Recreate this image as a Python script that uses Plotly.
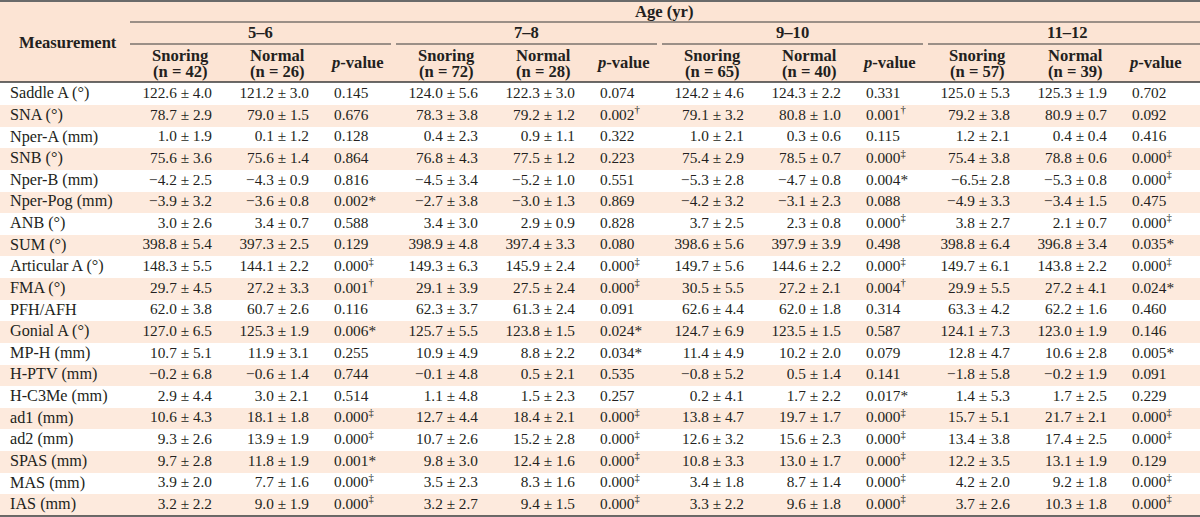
import plotly.graph_objects as go

# ---------------- data ----------------
measurements = ["Saddle A (°)", "SNA (°)", "Nper-A (mm)", "SNB (°)", "Nper-B (mm)",
                "Nper-Pog (mm)", "ANB (°)", "SUM (°)", "Articular A (°)", "FMA (°)",
                "PFH/AFH", "Gonial A (°)", "MP-H (mm)", "H-PTV (mm)", "H-C3Me (mm)",
                "ad1 (mm)", "ad2 (mm)", "SPAS (mm)", "MAS (mm)", "IAS (mm)"]

age_groups = ["5–6", "7–8", "9–10", "11–12"]
n_snoring = [42, 72, 65, 57]
n_normal = [26, 28, 40, 39]

snoring_5_6 = ["122.6 ± 4.0", "78.7 ± 2.9", "1.0 ± 1.9", "75.6 ± 3.6", "−4.2 ± 2.5",
               "−3.9 ± 3.2", "3.0 ± 2.6", "398.8 ± 5.4", "148.3 ± 5.5", "29.7 ± 4.5",
               "62.0 ± 3.8", "127.0 ± 6.5", "10.7 ± 5.1", "−0.2 ± 6.8", "2.9 ± 4.4",
               "10.6 ± 4.3", "9.3 ± 2.6", "9.7 ± 2.8", "3.9 ± 2.0", "3.2 ± 2.2"]
normal_5_6 = ["121.2 ± 3.0", "79.0 ± 1.5", "0.1 ± 1.2", "75.6 ± 1.4", "−4.3 ± 0.9",
              "−3.6 ± 0.8", "3.4 ± 0.7", "397.3 ± 2.5", "144.1 ± 2.2", "27.2 ± 3.3",
              "60.7 ± 2.6", "125.3 ± 1.9", "11.9 ± 3.1", "−0.6 ± 1.4", "3.0 ± 2.1",
              "18.1 ± 1.8", "13.9 ± 1.9", "11.8 ± 1.9", "7.7 ± 1.6", "9.0 ± 1.9"]
p_5_6 = ["0.145", "0.676", "0.128", "0.864", "0.816", "0.002*", "0.588", "0.129",
         "0.000‡", "0.001†", "0.116", "0.006*", "0.255", "0.744", "0.514",
         "0.000‡", "0.000‡", "0.001*", "0.000‡", "0.000‡"]

snoring_7_8 = ["124.0 ± 5.6", "78.3 ± 3.8", "0.4 ± 2.3", "76.8 ± 4.3", "−4.5 ± 3.4",
               "−2.7 ± 3.8", "3.4 ± 3.0", "398.9 ± 4.8", "149.3 ± 6.3", "29.1 ± 3.9",
               "62.3 ± 3.7", "125.7 ± 5.5", "10.9 ± 4.9", "−0.1 ± 4.8", "1.1 ± 4.8",
               "12.7 ± 4.4", "10.7 ± 2.6", "9.8 ± 3.0", "3.5 ± 2.3", "3.2 ± 2.7"]
normal_7_8 = ["122.3 ± 3.0", "79.2 ± 1.2", "0.9 ± 1.1", "77.5 ± 1.2", "−5.2 ± 1.0",
              "−3.0 ± 1.3", "2.9 ± 0.9", "397.4 ± 3.3", "145.9 ± 2.4", "27.5 ± 2.4",
              "61.3 ± 2.4", "123.8 ± 1.5", "8.8 ± 2.2", "0.5 ± 2.1", "1.5 ± 2.3",
              "18.4 ± 2.1", "15.2 ± 2.8", "12.4 ± 1.6", "8.3 ± 1.6", "9.4 ± 1.5"]
p_7_8 = ["0.074", "0.002†", "0.322", "0.223", "0.551", "0.869", "0.828", "0.080",
         "0.000‡", "0.000‡", "0.091", "0.024*", "0.034*", "0.535", "0.257",
         "0.000‡", "0.000‡", "0.000‡", "0.000‡", "0.000‡"]

snoring_9_10 = ["124.2 ± 4.6", "79.1 ± 3.2", "1.0 ± 2.1", "75.4 ± 2.9", "−5.3 ± 2.8",
                "−4.2 ± 3.2", "3.7 ± 2.5", "398.6 ± 5.6", "149.7 ± 5.6", "30.5 ± 5.5",
                "62.6 ± 4.4", "124.7 ± 6.9", "11.4 ± 4.9", "−0.8 ± 5.2", "0.2 ± 4.1",
                "13.8 ± 4.7", "12.6 ± 3.2", "10.8 ± 3.3", "3.4 ± 1.8", "3.3 ± 2.2"]
normal_9_10 = ["124.3 ± 2.2", "80.8 ± 1.0", "0.3 ± 0.6", "78.5 ± 0.7", "−4.7 ± 0.8",
               "−3.1 ± 2.3", "2.3 ± 0.8", "397.9 ± 3.9", "144.6 ± 2.2", "27.2 ± 2.1",
               "62.0 ± 1.8", "123.5 ± 1.5", "10.2 ± 2.0", "0.5 ± 1.4", "1.7 ± 2.2",
               "19.7 ± 1.7", "15.6 ± 2.3", "13.0 ± 1.7", "8.7 ± 1.4", "9.6 ± 1.8"]
p_9_10 = ["0.331", "0.001†", "0.115", "0.000‡", "0.004*", "0.088", "0.000‡", "0.498",
          "0.000‡", "0.004†", "0.314", "0.587", "0.079", "0.141", "0.017*",
          "0.000‡", "0.000‡", "0.000‡", "0.000‡", "0.000‡"]

snoring_11_12 = ["125.0 ± 5.3", "79.2 ± 3.8", "1.2 ± 2.1", "75.4 ± 3.8", "−6.5± 2.8",
                 "−4.9 ± 3.3", "3.8 ± 2.7", "398.8 ± 6.4", "149.7 ± 6.1", "29.9 ± 5.5",
                 "63.3 ± 4.2", "124.1 ± 7.3", "12.8 ± 4.7", "−1.8 ± 5.8", "1.4 ± 5.3",
                 "15.7 ± 5.1", "13.4 ± 3.8", "12.2 ± 3.5", "4.2 ± 2.0", "3.7 ± 2.6"]
normal_11_12 = ["125.3 ± 1.9", "80.9 ± 0.7", "0.4 ± 0.4", "78.8 ± 0.6", "−5.3 ± 0.8",
                "−3.4 ± 1.5", "2.1 ± 0.7", "396.8 ± 3.4", "143.8 ± 2.2", "27.2 ± 4.1",
                "62.2 ± 1.6", "123.0 ± 1.9", "10.6 ± 2.8", "−0.2 ± 1.9", "1.7 ± 2.5",
                "21.7 ± 2.1", "17.4 ± 2.5", "13.1 ± 1.9", "9.2 ± 1.8", "10.3 ± 1.8"]
p_11_12 = ["0.702", "0.092", "0.416", "0.000‡", "0.000‡", "0.475", "0.000‡", "0.035*",
           "0.000‡", "0.024*", "0.460", "0.146", "0.005*", "0.091", "0.229",
           "0.000‡", "0.000‡", "0.129", "0.000‡", "0.000‡"]

snoring_cols = [snoring_5_6, snoring_7_8, snoring_9_10, snoring_11_12]
normal_cols = [normal_5_6, normal_7_8, normal_9_10, normal_11_12]
p_cols = [p_5_6, p_7_8, p_9_10, p_11_12]

# ---------------- layout constants ----------------
W, H = 1200, 517
FONT = "Liberation Serif"
TXT = "#231f20"
HEAD_BG = "#fce4d4"
ROW_BG = "#fdeadd"
LINE = "#3a3a3a"

HEADER_BOTTOM = 82
BODY_TOP = 83.5
ROW_H = 21.62
LABEL_SIZE = 16.2
NUM_SIZE = 15.3
HEAD_SIZE = 16.6

group_starts = [130, 396, 662, 928]
group_ends = [391, 657, 923, 1200]
SNORING_RIGHT = 82   # right edge of snoring values, relative to group start
NORMAL_RIGHT = 179   # right edge of normal values
P_LEFT = 204         # left edge of p-values
LABEL_LEFT = 10


def sup_marks(s):
    for m in ("†", "‡"):
        if s.endswith(m):
            return s[:-1] + "<sup>" + m + "</sup>"
    return s


def py(y):
    return 1 - y / H


def px(x):
    return x / W


fig = go.Figure()

# alternating row shading (every second row) as full-width horizontal bars
shaded = measurements[1::2]
fig.add_trace(go.Bar(orientation="h", y=shaded, x=[W] * len(shaded), base=0, width=1.0,
                     marker=dict(color=ROW_BG, line=dict(width=0)),
                     hoverinfo="skip", showlegend=False))


def text_col(values, x, pos, size):
    fig.add_trace(go.Scatter(x=[x] * len(values), y=measurements, mode="text",
                             text=values, textposition=pos,
                             textfont=dict(family=FONT, size=size, color=TXT),
                             hoverinfo="skip", showlegend=False, cliponaxis=False))


text_col(measurements, LABEL_LEFT, "middle right", LABEL_SIZE)
for k, gs in enumerate(group_starts):
    text_col(snoring_cols[k], gs + SNORING_RIGHT, "middle left", NUM_SIZE)
    text_col(normal_cols[k], gs + NORMAL_RIGHT, "middle left", NUM_SIZE)
    text_col([sup_marks(v) for v in p_cols[k]], gs + P_LEFT, "middle right", NUM_SIZE)

shapes = []
annotations = []

# header background
shapes.append(dict(type="rect", xref="paper", yref="paper", x0=0, x1=1,
                   y0=py(HEADER_BOTTOM), y1=py(0), fillcolor=HEAD_BG,
                   line=dict(width=0), layer="below"))


def hline(x0, x1, y, w=1.0, c=LINE):
    shapes.append(dict(type="line", xref="paper", yref="paper",
                       x0=px(x0), x1=px(x1), y0=py(y), y1=py(y),
                       line=dict(color=c, width=w)))


hline(0, W, 1, 1.8, "#6a6a6a")
hline(130, W, 22, 1.0)
hline(0, W, HEADER_BOTTOM, 1.4)
hline(0, W, 516, 1.4)
for gs, ge in zip(group_starts, group_ends):
    hline(gs, ge, 44, 1.0)


def ann(text, x, y, size=HEAD_SIZE):
    annotations.append(dict(text=text, x=px(x), y=py(y), xref="paper", yref="paper",
                            xanchor="center", yanchor="middle", showarrow=False,
                            font=dict(family=FONT, size=size, color=TXT)))


ann("<b>Measurement</b>", 68, 43)
ann("<b>Age (yr)</b>", 664, 12)
for k, (gs, ge) in enumerate(zip(group_starts, group_ends)):
    ann("<b>" + age_groups[k] + "</b>", (gs + ge) / 2 + (3 if k == 3 else 0), 33)
    ann("<b>Snoring</b>", gs + 50, 55.5)
    ann("<b>(n = %d)</b>" % n_snoring[k], gs + 50, 71)
    ann("<b>Normal</b>", gs + 147, 55.5)
    ann("<b>(n = %d)</b>" % n_normal[k], gs + 147, 71)
    ann("<b><i>p</i>-value</b>", gs + 227, 63)

y_bottom = (H - BODY_TOP) / ROW_H - 0.5
y_top = -BODY_TOP / ROW_H - 0.5

fig.update_layout(
    width=W, height=H, margin=dict(l=0, r=0, t=0, b=0),
    paper_bgcolor="white", plot_bgcolor="white",
    xaxis=dict(range=[0, W], visible=False, fixedrange=True),
    yaxis=dict(type="category", categoryorder="array", categoryarray=measurements,
               range=[y_bottom, y_top], visible=False, fixedrange=True),
    bargap=0, shapes=shapes, annotations=annotations, showlegend=False,
)

fig.write_html("out.html", config=dict(displayModeBar=False),
               post_script="document.body.style.margin='0px';"
                           "document.body.style.overflow='hidden';")
